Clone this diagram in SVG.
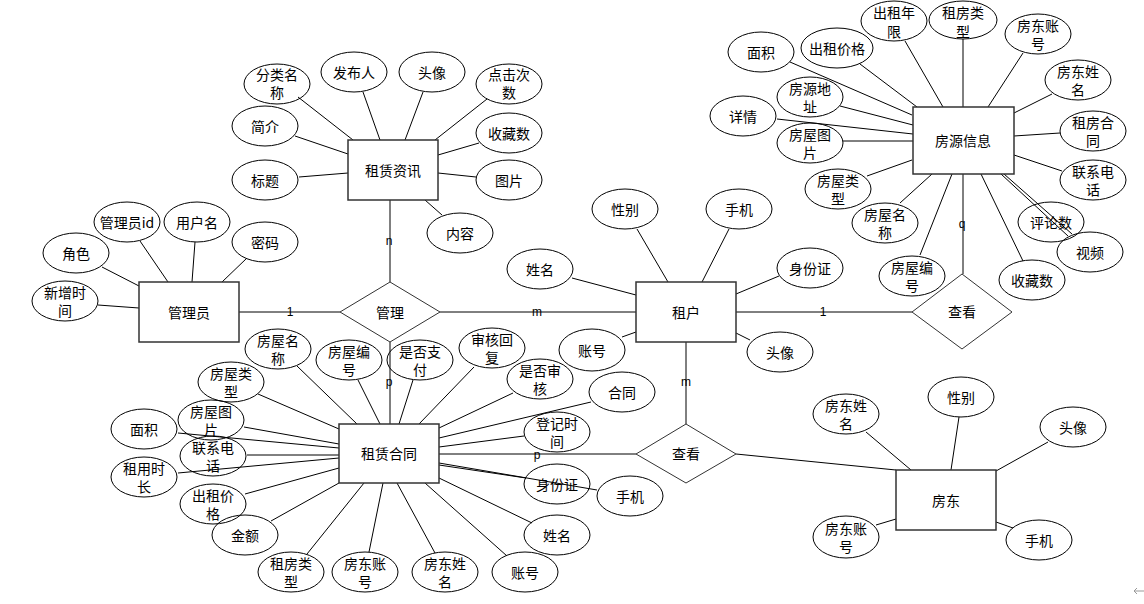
<svg xmlns="http://www.w3.org/2000/svg" width="1144" height="604" viewBox="0 0 1144 604">
<style>
.e{fill:none;stroke:#000;stroke-width:1}
.r{fill:#fff;stroke:#333;stroke-width:1.5}
.d{fill:#fff;stroke:#333;stroke-width:1}
.t{font-family:"Noto Sans CJK SC","Liberation Sans",sans-serif;font-size:14px;text-anchor:middle;dominant-baseline:central;fill:#000}
.l{font-family:"Liberation Sans",sans-serif;font-size:12px;text-anchor:middle;dominant-baseline:central;fill:#000}
.a line{stroke:#000;stroke-width:1}
.c{stroke:#777;stroke-width:2}
.k{stroke:#333;stroke-width:1}
</style>
<rect width="1144" height="604" fill="#fff"/>
<g id="connectors" class="a">
<line x1="298" y1="97" x2="353" y2="140"/><line x1="363" y1="92" x2="380" y2="140"/><line x1="423" y1="92" x2="405" y2="140"/><line x1="487" y1="99" x2="435" y2="140"/><line x1="479" y1="143" x2="438" y2="155"/><line x1="476" y1="177" x2="438" y2="173"/><line x1="442" y1="215" x2="425" y2="200"/><line x1="295" y1="136" x2="348" y2="154"/><line x1="299" y1="177" x2="348" y2="173"/>
<line x1="140" y1="241" x2="168" y2="282"/><line x1="195" y1="242" x2="192" y2="282"/><line x1="247" y1="258" x2="222" y2="282"/><line x1="102" y1="267" x2="139" y2="286"/><line x1="98" y1="305" x2="139" y2="308"/>
<line x1="637" y1="229" x2="668" y2="282"/><line x1="729" y1="229" x2="702" y2="282"/><line x1="572" y1="278" x2="636" y2="295"/><line x1="736" y1="294" x2="779" y2="276"/><line x1="622" y1="337" x2="636" y2="332"/><line x1="736" y1="333" x2="750" y2="340"/>
<line x1="790" y1="62" x2="912" y2="115"/><line x1="860" y1="64" x2="917" y2="107"/><line x1="905" y1="41" x2="943" y2="107"/><line x1="963" y1="39" x2="963" y2="107"/><line x1="1023" y1="53" x2="988" y2="107"/><line x1="1052" y1="94" x2="1014" y2="113"/><line x1="1060" y1="133" x2="1014" y2="136"/><line x1="1062" y1="171" x2="1014" y2="155"/><line x1="1001" y1="174" x2="1068" y2="236"/><line x1="1004" y1="174" x2="1072" y2="234"/><line x1="981" y1="174" x2="1023" y2="261"/><line x1="952" y1="174" x2="920" y2="255"/><line x1="932" y1="174" x2="900" y2="203"/><line x1="912" y1="160" x2="867" y2="176"/><line x1="843" y1="141" x2="913" y2="141"/><line x1="840" y1="106" x2="913" y2="125"/><line x1="777" y1="119" x2="913" y2="134"/>
<line x1="297" y1="366" x2="357" y2="424"/><line x1="358" y1="380" x2="380" y2="424"/><line x1="413" y1="380" x2="399" y2="424"/><line x1="474" y1="367" x2="419" y2="424"/><line x1="513" y1="393" x2="439" y2="428"/><line x1="591" y1="402" x2="439" y2="438"/><line x1="524" y1="436" x2="439" y2="447"/><line x1="597" y1="490" x2="439" y2="463"/><line x1="526" y1="478" x2="439" y2="465"/><line x1="532" y1="523" x2="439" y2="478"/><line x1="507" y1="556" x2="425" y2="483"/><line x1="435" y1="553" x2="397" y2="483"/><line x1="369" y1="552" x2="383" y2="483"/><line x1="307" y1="554" x2="364" y2="483"/><line x1="271" y1="521" x2="339" y2="483"/><line x1="245" y1="494" x2="339" y2="468"/><line x1="178" y1="473" x2="339" y2="458"/><line x1="247" y1="455" x2="339" y2="455"/><line x1="178" y1="433" x2="339" y2="448"/><line x1="244" y1="427" x2="339" y2="444"/><line x1="258" y1="394" x2="339" y2="429"/>
<line x1="866" y1="432" x2="911" y2="470"/><line x1="959" y1="417" x2="951" y2="470"/><line x1="1048" y1="442" x2="996" y2="471"/><line x1="876" y1="525" x2="896" y2="519"/><line x1="996" y1="522" x2="1013" y2="528"/>
<line class="c" x1="239" y1="312" x2="340" y2="312"/><line class="c" x1="440" y1="312" x2="636" y2="312"/><line class="c" x1="736" y1="312" x2="912" y2="312"/><line class="c" x1="390" y1="200" x2="390" y2="282"/><line class="c" x1="390" y1="342" x2="390" y2="424"/><line class="c" x1="686" y1="342" x2="686" y2="424"/><line class="c" x1="963" y1="174" x2="963" y2="274"/>
<line class="k" x1="439" y1="454" x2="636" y2="454"/><line class="k" x1="736" y1="454" x2="896" y2="470"/>
<text class="l" x="290" y="312">1</text><text class="l" x="537" y="312">m</text><text class="l" x="389" y="241">n</text><text class="l" x="389" y="382">p</text><text class="l" x="686" y="382">m</text><text class="l" x="537" y="455">p</text><text class="l" x="823" y="312">1</text><text class="l" x="962" y="224">q</text>
</g>
<g id="zulinzixun"><rect class="r" x="348" y="140" width="90" height="60"/><text class="t" x="393" y="170">租赁资讯</text></g>
<g id="guanliyuan"><rect class="r" x="139" y="282" width="100" height="60"/><text class="t" x="189" y="312">管理员</text></g>
<g id="zuhu"><rect class="r" x="636" y="282" width="100" height="60"/><text class="t" x="686" y="312">租户</text></g>
<g id="fangyuan"><rect class="r" x="913" y="107" width="101" height="67"/><text class="t" x="963" y="140">房源信息</text></g>
<g id="zulinhetong"><rect class="r" x="339" y="424" width="100" height="59"/><text class="t" x="389" y="453">租赁合同</text></g>
<g id="fangdong"><rect class="r" x="896" y="470" width="100" height="60"/><text class="t" x="946" y="500">房东</text></g>
<g id="guanli"><polygon class="d" points="340,312 390,282 440,312 390,342"/><text class="t" x="390" y="312">管理</text></g>
<g id="chakan1"><polygon class="d" points="912,312 962,274 1012,312 962,349"/><text class="t" x="962" y="311">查看</text></g>
<g id="chakan2"><polygon class="d" points="636,454 686,424 736,454 686,483"/><text class="t" x="686" y="453">查看</text></g>

<g id="a1"><ellipse class="e" cx="277" cy="84" rx="33" ry="20"/><text class="t" x="277"><tspan x="277" y="74">分类名</tspan><tspan x="277" y="92">称</tspan></text></g>
<g id="a2"><ellipse class="e" cx="354" cy="72" rx="33" ry="20"/><text class="t" x="354" y="72">发布人</text></g>
<g id="a3"><ellipse class="e" cx="432" cy="72" rx="33" ry="20"/><text class="t" x="432" y="72">头像</text></g>
<g id="a4"><ellipse class="e" cx="509" cy="84" rx="33" ry="20"/><text class="t"><tspan x="509" y="74">点击次</tspan><tspan x="509" y="92">数</tspan></text></g>
<g id="a5"><ellipse class="e" cx="509" cy="133" rx="33" ry="20"/><text class="t" x="509" y="133">收藏数</text></g>
<g id="a6"><ellipse class="e" cx="509" cy="180" rx="33" ry="20"/><text class="t" x="509" y="180">图片</text></g>
<g id="a7"><ellipse class="e" cx="460" cy="233" rx="33" ry="20"/><text class="t" x="460" y="233">内容</text></g>
<g id="a8"><ellipse class="e" cx="265" cy="126" rx="33" ry="20"/><text class="t" x="265" y="126">简介</text></g>
<g id="a9"><ellipse class="e" cx="265" cy="180" rx="33" ry="20"/><text class="t" x="265" y="180">标题</text></g>

<g id="b1"><ellipse class="e" cx="127" cy="222" rx="33" ry="20"/><text class="t" x="127" y="222">管理员id</text></g>
<g id="b2"><ellipse class="e" cx="197" cy="222" rx="33" ry="20"/><text class="t" x="197" y="222">用户名</text></g>
<g id="b3"><ellipse class="e" cx="265" cy="242" rx="33" ry="20"/><text class="t" x="265" y="242">密码</text></g>
<g id="b4"><ellipse class="e" cx="76" cy="253" rx="33" ry="20"/><text class="t" x="76" y="253">角色</text></g>
<g id="b5"><ellipse class="e" cx="65" cy="301" rx="33" ry="20"/><text class="t"><tspan x="65" y="292">新增时</tspan><tspan x="65" y="310">间</tspan></text></g>

<g id="c1"><ellipse class="e" cx="625" cy="209" rx="33" ry="20"/><text class="t" x="625" y="209">性别</text></g>
<g id="c2"><ellipse class="e" cx="739" cy="209" rx="33" ry="20"/><text class="t" x="739" y="209">手机</text></g>
<g id="c3"><ellipse class="e" cx="540" cy="269" rx="33" ry="20"/><text class="t" x="540" y="269">姓名</text></g>
<g id="c4"><ellipse class="e" cx="810" cy="268" rx="33" ry="20"/><text class="t" x="810" y="268">身份证</text></g>
<g id="c5"><ellipse class="e" cx="592" cy="350" rx="33" ry="21"/><text class="t" x="592" y="350">账号</text></g>
<g id="c6"><ellipse class="e" cx="780" cy="352" rx="33" ry="20"/><text class="t" x="780" y="352">头像</text></g>

<g id="d1"><ellipse class="e" cx="761" cy="52" rx="33" ry="20"/><text class="t" x="761" y="52">面积</text></g>
<g id="d2"><ellipse class="e" cx="837" cy="48" rx="36" ry="20"/><text class="t" x="837" y="48">出租价格</text></g>
<g id="d3"><ellipse class="e" cx="894" cy="21" rx="33" ry="20"/><text class="t"><tspan x="894" y="12">出租年</tspan><tspan x="894" y="31">限</tspan></text></g>
<g id="d4"><ellipse class="e" cx="963" cy="20" rx="34" ry="19"/><text class="t"><tspan x="963" y="12">租房类</tspan><tspan x="963" y="31">型</tspan></text></g>
<g id="d5"><ellipse class="e" cx="1038" cy="34" rx="33" ry="20"/><text class="t"><tspan x="1038" y="25">房东账</tspan><tspan x="1038" y="43">号</tspan></text></g>
<g id="d6"><ellipse class="e" cx="1078" cy="80" rx="33" ry="20"/><text class="t"><tspan x="1078" y="71">房东姓</tspan><tspan x="1078" y="89">名</tspan></text></g>
<g id="d7"><ellipse class="e" cx="1093" cy="131" rx="33" ry="20"/><text class="t"><tspan x="1093" y="122">租房合</tspan><tspan x="1093" y="140">同</tspan></text></g>
<g id="d8"><ellipse class="e" cx="1093" cy="180" rx="33" ry="20"/><text class="t"><tspan x="1093" y="171">联系电</tspan><tspan x="1093" y="189">话</tspan></text></g>
<g id="d9"><ellipse class="e" cx="1051" cy="222" rx="33" ry="20"/><text class="t" x="1051" y="222">评论数</text></g>
<g id="d10"><ellipse class="e" cx="1090" cy="252" rx="33" ry="20"/><text class="t" x="1090" y="252">视频</text></g>
<g id="d11"><ellipse class="e" cx="1032" cy="280" rx="33" ry="20"/><text class="t" x="1032" y="280">收藏数</text></g>
<g id="d12"><ellipse class="e" cx="912" cy="276" rx="33" ry="20"/><text class="t"><tspan x="912" y="267">房屋编</tspan><tspan x="912" y="285">号</tspan></text></g>
<g id="d13"><ellipse class="e" cx="885" cy="223" rx="33" ry="20"/><text class="t"><tspan x="885" y="214">房屋名</tspan><tspan x="885" y="232">称</tspan></text></g>
<g id="d14"><ellipse class="e" cx="838" cy="189" rx="33" ry="20"/><text class="t"><tspan x="838" y="180">房屋类</tspan><tspan x="838" y="198">型</tspan></text></g>
<g id="d15"><ellipse class="e" cx="810" cy="143" rx="33" ry="20"/><text class="t"><tspan x="810" y="134">房屋图</tspan><tspan x="810" y="152">片</tspan></text></g>
<g id="d16"><ellipse class="e" cx="810" cy="97" rx="33" ry="20"/><text class="t"><tspan x="810" y="88">房源地</tspan><tspan x="810" y="106">址</tspan></text></g>
<g id="d17"><ellipse class="e" cx="743" cy="116" rx="33" ry="20"/><text class="t" x="743" y="116">详情</text></g>

<g id="e1"><ellipse class="e" cx="278" cy="349" rx="33" ry="20"/><text class="t"><tspan x="278" y="340">房屋名</tspan><tspan x="278" y="358">称</tspan></text></g>
<g id="e2"><ellipse class="e" cx="349" cy="360" rx="33" ry="20"/><text class="t"><tspan x="349" y="351">房屋编</tspan><tspan x="349" y="369">号</tspan></text></g>
<g id="e3"><ellipse class="e" cx="420" cy="360" rx="33" ry="20"/><text class="t"><tspan x="420" y="351">是否支</tspan><tspan x="420" y="369">付</tspan></text></g>
<g id="e4"><ellipse class="e" cx="492" cy="348" rx="33" ry="20"/><text class="t"><tspan x="492" y="339">审核回</tspan><tspan x="492" y="357">复</tspan></text></g>
<g id="e5"><ellipse class="e" cx="540" cy="379" rx="33" ry="20"/><text class="t"><tspan x="540" y="370">是否审</tspan><tspan x="540" y="388">核</tspan></text></g>
<g id="e6"><ellipse class="e" cx="622" cy="392" rx="33" ry="20"/><text class="t" x="622" y="392">合同</text></g>
<g id="e7"><ellipse class="e" cx="557" cy="432" rx="33" ry="20"/><text class="t"><tspan x="557" y="423">登记时</tspan><tspan x="557" y="441">间</tspan></text></g>
<g id="e8"><ellipse class="e" cx="557" cy="484" rx="33" ry="20"/><text class="t" x="557" y="484">身份证</text></g>
<g id="e9"><ellipse class="e" cx="630" cy="496" rx="33" ry="20"/><text class="t" x="630" y="496">手机</text></g>
<g id="e10"><ellipse class="e" cx="557" cy="535" rx="33" ry="20"/><text class="t" x="557" y="535">姓名</text></g>
<g id="e11"><ellipse class="e" cx="525" cy="572" rx="33" ry="20"/><text class="t" x="525" y="572">账号</text></g>
<g id="e12"><ellipse class="e" cx="445" cy="572" rx="33" ry="20"/><text class="t"><tspan x="445" y="563">房东姓</tspan><tspan x="445" y="581">名</tspan></text></g>
<g id="e13"><ellipse class="e" cx="365" cy="572" rx="33" ry="20"/><text class="t"><tspan x="365" y="563">房东账</tspan><tspan x="365" y="581">号</tspan></text></g>
<g id="e14"><ellipse class="e" cx="291" cy="572" rx="33" ry="20"/><text class="t"><tspan x="291" y="563">租房类</tspan><tspan x="291" y="581">型</tspan></text></g>
<g id="e15"><ellipse class="e" cx="245" cy="535" rx="33" ry="20"/><text class="t" x="245" y="535">金额</text></g>
<g id="e16"><ellipse class="e" cx="213" cy="504" rx="33" ry="20"/><text class="t"><tspan x="213" y="495">出租价</tspan><tspan x="213" y="513">格</tspan></text></g>
<g id="e17"><ellipse class="e" cx="144" cy="477" rx="33" ry="20"/><text class="t"><tspan x="144" y="468">租用时</tspan><tspan x="144" y="486">长</tspan></text></g>
<g id="e18"><ellipse class="e" cx="213" cy="456" rx="33" ry="20"/><text class="t"><tspan x="213" y="447">联系电</tspan><tspan x="213" y="465">话</tspan></text></g>
<g id="e19"><ellipse class="e" cx="144" cy="429" rx="33" ry="20"/><text class="t" x="144" y="429">面积</text></g>
<g id="e20"><ellipse class="e" cx="211" cy="420" rx="33" ry="20"/><text class="t"><tspan x="211" y="411">房屋图</tspan><tspan x="211" y="429">片</tspan></text></g>
<g id="e21"><ellipse class="e" cx="231" cy="382" rx="33" ry="20"/><text class="t"><tspan x="231" y="373">房屋类</tspan><tspan x="231" y="391">型</tspan></text></g>

<g id="f1"><ellipse class="e" cx="846" cy="414" rx="33" ry="20"/><text class="t"><tspan x="846" y="405">房东姓</tspan><tspan x="846" y="423">名</tspan></text></g>
<g id="f2"><ellipse class="e" cx="961" cy="397" rx="33" ry="20"/><text class="t" x="961" y="397">性别</text></g>
<g id="f3"><ellipse class="e" cx="1073" cy="427" rx="33" ry="20"/><text class="t" x="1073" y="427">头像</text></g>
<g id="f4"><ellipse class="e" cx="846" cy="537" rx="33" ry="21"/><text class="t"><tspan x="846" y="528">房东账</tspan><tspan x="846" y="546">号</tspan></text></g>
<g id="f5"><ellipse class="e" cx="1039" cy="540" rx="33" ry="20"/><text class="t" x="1039" y="540">手机</text></g>
<path d="M1137,588 L1134,591 L1137,594 M1134,591 L1144,591" fill="none" stroke="#999" stroke-width="1"/>
</svg>
